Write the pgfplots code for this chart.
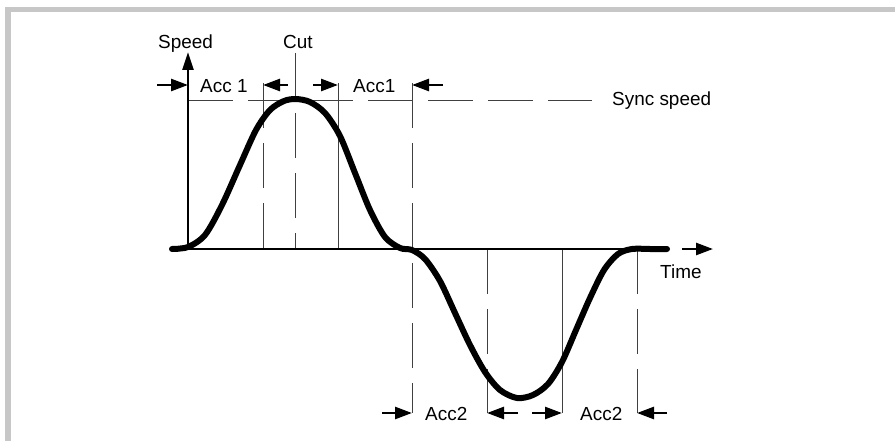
\documentclass[border=0pt]{standalone}
\usepackage{pgfplots}
\pgfplotsset{compat=1.18}
\usetikzlibrary{arrows.meta}
\usepackage{fontspec}
\setmainfont{Liberation Sans}
\begin{document}
\begin{tikzpicture}
\begin{axis}[
    width=895bp, height=441bp, scale only axis,
    xmin=0, xmax=895, ymin=0, ymax=441, y dir=reverse,
    axis lines=none, clip=false,
]
% page and frame
\fill[white] (axis cs:0,0) rectangle (axis cs:895,441);
\fill[black!22] (axis cs:5,7) rectangle (axis cs:895,12);
\fill[black!22] (axis cs:5,7) rectangle (axis cs:11,441);

\tikzset{
  thin/.style={black!75, line width=0.9bp},
  dsh/.style={thin, dash pattern=on 45bp off 15bp},
  arr/.style={line width=2.6bp, -{Triangle[length=17bp,width=12bp]}},
  lbl/.style={font=\fontsize{19}{22}\selectfont, anchor=base west, inner sep=0pt},
}

% sync speed and guide lines
\draw[dsh] (axis cs:188,100) -- (axis cs:592,100);
\draw[dsh] (axis cs:263,83) -- (axis cs:263,249);
\draw[dsh] (axis cs:295,53) -- (axis cs:295,249);
\draw[thin] (axis cs:338,83) -- (axis cs:338,249);
\draw[dsh] (axis cs:412,83) -- (axis cs:412,413);
\draw[dsh] (axis cs:487,249) -- (axis cs:487,413);
\draw[thin] (axis cs:562,249) -- (axis cs:562,413);
\draw[dsh] (axis cs:637,249) -- (axis cs:637,413);

% axes
\draw[line width=2.5bp] (axis cs:188,249) -- (axis cs:667,249);
\draw[line width=2.5bp, -{Triangle[length=18bp,width=11bp]}] (axis cs:188,249) -- (axis cs:188,52);
\draw[arr] (axis cs:682,249) -- (axis cs:713,249);

% speed profile
\addplot[black, line width=6bp, smooth, line cap=round] coordinates {
  (172,249) (188,247) (205,235) (222,205) (240,165) (256,130) (270,110)
  (284,101) (296,99) (310,102) (325,113) (340,136) (355,173) (370,210)
  (385,237) (400,248) (412,250) (425,259) (440,281) (455,313) (470,345)
  (485,372) (500,390) (517,398) (533,395) (548,384) (562,362) (576,330)
  (590,298) (604,270) (618,254) (632,249) (650,249) (667,249)
};

% top markers
\draw[arr] (axis cs:157,85) -- (axis cs:188,85);
\draw[arr] (axis cs:288,85) -- (axis cs:263,85);
\draw[arr] (axis cs:313,85) -- (axis cs:338,85);
\draw[arr] (axis cs:443,85) -- (axis cs:412,85);
% bottom markers
\draw[arr] (axis cs:382,413) -- (axis cs:412,413);
\draw[arr] (axis cs:518,413) -- (axis cs:487,413);
\draw[arr] (axis cs:532,413) -- (axis cs:562,413);
\draw[arr] (axis cs:667,413) -- (axis cs:637,413);

% labels
\node[lbl] at (axis cs:158,49) {Speed};
\node[lbl] at (axis cs:283,49) {Cut};
\node[lbl] at (axis cs:200,92) {Acc 1};
\node[lbl] at (axis cs:353,92) {Acc1};
\node[lbl] at (axis cs:612,105) {Sync speed};
\node[lbl] at (axis cs:660,278) {Time};
\node[lbl] at (axis cs:425,420) {Acc2};
\node[lbl] at (axis cs:580,420) {Acc2};
\end{axis}
\end{tikzpicture}
\end{document}
